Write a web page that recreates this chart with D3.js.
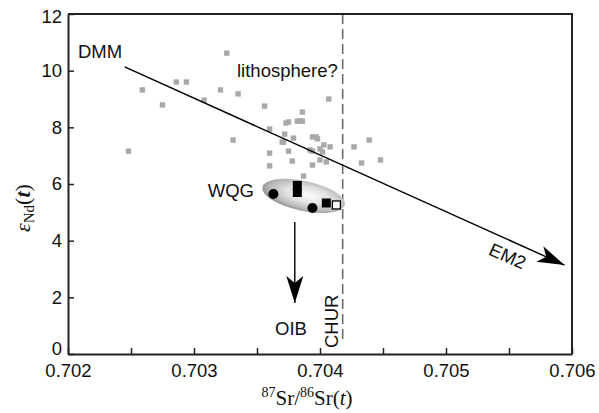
<!DOCTYPE html>
<html>
<head>
<meta charset="UTF-8">
<script src="https://cdn.jsdelivr.net/npm/d3@7"></script>
<style>
  body { margin: 0; background: #fff; }
  .sans { font-family: "Liberation Sans", Arial, sans-serif; }
  .serif { font-family: "Liberation Serif", "Times New Roman", serif; }
</style>
</head>
<body>
<svg id="chart" width="599" height="413"></svg>
<script>
// axis ticks
const xTicks = [0.702, 0.703, 0.704, 0.705, 0.706];
const xMinor = [0.7025, 0.7035, 0.7045, 0.7055];
const yTicks = [0, 2, 4, 6, 8, 10, 12];

// grey background samples (87Sr/86Sr(t), eNd(t))
const bgSr = [0.70248, 0.70259, 0.70275, 0.70286, 0.70294, 0.70308, 0.70321, 0.70326, 0.70335, 0.70331,
  0.70356, 0.7036, 0.7036, 0.7036, 0.70373, 0.70375, 0.70382, 0.70384, 0.70386, 0.70386, 0.70407,
  0.7037, 0.70371, 0.70372, 0.70379, 0.70375, 0.70378, 0.70394, 0.70397, 0.70398, 0.70392, 0.70394,
  0.70403, 0.70408, 0.704, 0.70402, 0.704, 0.70394, 0.70405, 0.70387, 0.70427, 0.70439, 0.70433, 0.70448];
const bgNd = [7.16, 9.32, 8.79, 9.6, 9.6, 8.96, 9.32, 10.62, 9.18, 7.55,
  8.75, 7.94, 7.09, 6.64, 8.15, 8.19, 8.22, 8.22, 8.22, 8.54, 9.0,
  7.48, 7.48, 7.76, 7.62, 7.16, 6.81, 7.66, 7.66, 7.59, 7.2, 7.16,
  7.38, 7.31, 7.24, 7.13, 6.85, 6.67, 6.78, 6.28, 7.31, 7.55, 6.74, 6.85];

// WQG samples
const wqgCircleSr = [0.70363, 0.70394];
const wqgCircleNd = [5.65, 5.15];
const wqgSquareSr = [0.70382, 0.70382, 0.70405];
const wqgSquareNd = [5.95, 5.70, 5.33];
const wqgOpenSr = [0.70413];
const wqgOpenNd = [5.26];
const wqgField = [0.70387, 5.58];     // centre of shaded field
const wqgFieldSpan = [0.000335, 0.53]; // half extents

// reference lines
const mixSr = [0.70245, 0.70594];
const mixNd = [10.13, 3.14];
const oibSr = [0.7038, 0.7038];
const oibNd = [4.66, 1.8];
const churSr = 0.70418;

const svg = d3.select("#chart");
const m = {left: 68, top: 14, right: 572, bottom: 354};

const x = d3.scaleLinear().domain([0.702, 0.706]).range([m.left, m.right]);
const y = d3.scaleLinear().domain([0, 12]).range([m.bottom, m.top]);

const defs = svg.append("defs");
const grad = defs.append("radialGradient").attr("id", "field")
  .attr("cx", "55%").attr("cy", "45%").attr("r", "58%");
grad.append("stop").attr("offset", "0%").attr("stop-color", "#fbfbfb");
grad.append("stop").attr("offset", "45%").attr("stop-color", "#e2e2e2");
grad.append("stop").attr("offset", "80%").attr("stop-color", "#b8b8b8");
grad.append("stop").attr("offset", "100%").attr("stop-color", "#8c8c8c");

defs.append("marker").attr("id", "head")
  .attr("viewBox", "-29 -10 31 20")
  .attr("refX", 0).attr("refY", 0)
  .attr("markerWidth", 31).attr("markerHeight", 20)
  .attr("markerUnits", "userSpaceOnUse")
  .attr("orient", "auto")
  .append("path").attr("d", "M0,0L-27,-8.5L-20,0L-27,8.5Z").attr("fill", "#000");

// CHUR dashed line
svg.append("line")
  .attr("x1", x(churSr)).attr("x2", x(churSr))
  .attr("y1", y(12)).attr("y2", y(0.35))
  .attr("stroke", "#6b6b6b").attr("stroke-width", 1.6)
  .attr("stroke-dasharray", "10,5");

// grey samples
svg.append("g").selectAll("rect").data(bgSr).join("rect")
  .attr("x", (d, i) => x(d) - 2.7)
  .attr("y", (d, i) => y(bgNd[i]) - 2.7)
  .attr("width", 5.4).attr("height", 5.4)
  .attr("fill", "#a9a9a9");

// mixing line DMM -> EM2
svg.append("line")
  .attr("x1", x(mixSr[0])).attr("y1", y(mixNd[0]))
  .attr("x2", x(mixSr[1])).attr("y2", y(mixNd[1]))
  .attr("stroke", "#000").attr("stroke-width", 1.4)
  .attr("marker-end", "url(#head)");

// WQG field
const fcx = x(wqgField[0]), fcy = y(wqgField[1]);
svg.append("ellipse")
  .attr("cx", fcx).attr("cy", fcy)
  .attr("rx", x(wqgField[0] + wqgFieldSpan[0]) - fcx)
  .attr("ry", fcy - y(wqgField[1] + wqgFieldSpan[1]))
  .attr("transform", `rotate(12,${fcx},${fcy})`)
  .attr("fill", "url(#field)");

svg.append("g").selectAll("circle").data(wqgCircleSr).join("circle")
  .attr("cx", d => x(d)).attr("cy", (d, i) => y(wqgCircleNd[i]))
  .attr("r", 5).attr("fill", "#000");

svg.append("g").selectAll("rect").data(wqgSquareSr).join("rect")
  .attr("x", d => x(d) - 4.5).attr("y", (d, i) => y(wqgSquareNd[i]) - 4.5)
  .attr("width", 9).attr("height", 9).attr("fill", "#000");

svg.append("g").selectAll("rect").data(wqgOpenSr).join("rect")
  .attr("x", d => x(d) - 4).attr("y", (d, i) => y(wqgOpenNd[i]) - 4)
  .attr("width", 8).attr("height", 8)
  .attr("fill", "#fff").attr("stroke", "#000").attr("stroke-width", 1.3);

// OIB arrow
svg.append("line")
  .attr("x1", x(oibSr[0])).attr("y1", y(oibNd[0]))
  .attr("x2", x(oibSr[1])).attr("y2", y(oibNd[1]))
  .attr("stroke", "#000").attr("stroke-width", 1.4)
  .attr("marker-end", "url(#head)");

// axes
const xAxis = d3.axisBottom(x).tickValues(xTicks).tickFormat(d3.format(".3f"))
  .tickSizeInner(-6).tickSizeOuter(0).tickPadding(10);
const gx = svg.append("g").attr("transform", `translate(0,${m.bottom})`).call(xAxis);
const gxm = svg.append("g").attr("transform", `translate(0,${m.bottom})`)
  .call(d3.axisBottom(x).tickValues(xMinor).tickFormat("").tickSizeInner(-6).tickSizeOuter(0));
gxm.select(".domain").remove();

const yAxis = d3.axisLeft(y).tickValues(yTicks).tickSizeInner(-6).tickSizeOuter(0).tickPadding(6);
const gy = svg.append("g").attr("transform", `translate(${m.left},0)`).call(yAxis);
gy.selectAll(".tick text").filter(d => d === 0).attr("dy", "0.05em");
gy.selectAll(".tick text").filter(d => d === 12).attr("dy", "0.45em");

[gx, gy, gxm].forEach(g => {
  g.selectAll("line").attr("stroke", "#222").attr("stroke-width", 1.5);
  g.selectAll(".domain").attr("stroke", "#222").attr("stroke-width", 2);
  g.selectAll("text").attr("class", "sans").attr("font-size", 18.5).attr("fill", "#111");
});

// frame top/right
svg.append("path")
  .attr("d", `M${m.left},${m.top}H${m.right}V${m.bottom}`)
  .attr("fill", "none").attr("stroke", "#222").attr("stroke-width", 2);

// annotations
const ann = (t, px, py, anchor, rot) => {
  const e = svg.append("text").attr("class", "sans").attr("font-size", 18.5).attr("fill", "#111")
    .attr("x", px).attr("y", py).attr("text-anchor", anchor).text(t);
  if (rot) e.attr("transform", `rotate(${rot},${px},${py})`);
  return e;
};
ann("DMM", 78, 58, "start");
ann("lithosphere?", 237, 77, "start");
ann("WQG", 254, 197, "end");
ann("OIB", 291, 335, "middle");
ann("CHUR", 338, 348, "start", -90);
ann("EM2", 505, 262, "middle", 24);

// axis titles
const xt = svg.append("text").attr("class", "serif").attr("font-size", 21).attr("fill", "#111")
  .attr("x", 307).attr("y", 405).attr("text-anchor", "middle");
xt.append("tspan").attr("font-size", 14).attr("dy", -8).text("87");
xt.append("tspan").attr("dy", 8).text("Sr/");
xt.append("tspan").attr("font-size", 14).attr("dy", -8).text("86");
xt.append("tspan").attr("dy", 8).text("Sr(");
xt.append("tspan").attr("font-style", "italic").text("t");
xt.append("tspan").text(")");

const yt = svg.append("text").attr("class", "serif").attr("font-size", 22).attr("fill", "#111")
  .attr("text-anchor", "middle")
  .attr("transform", "translate(30,208) rotate(-90)");
yt.append("tspan").attr("font-style", "italic").text("ε");
yt.append("tspan").attr("font-size", 15).attr("dy", 4).text("Nd");
yt.append("tspan").attr("dy", -4).text("(");
yt.append("tspan").attr("font-style", "italic").attr("font-weight", "bold").text("t");
yt.append("tspan").text(")");
</script>
</body>
</html>
